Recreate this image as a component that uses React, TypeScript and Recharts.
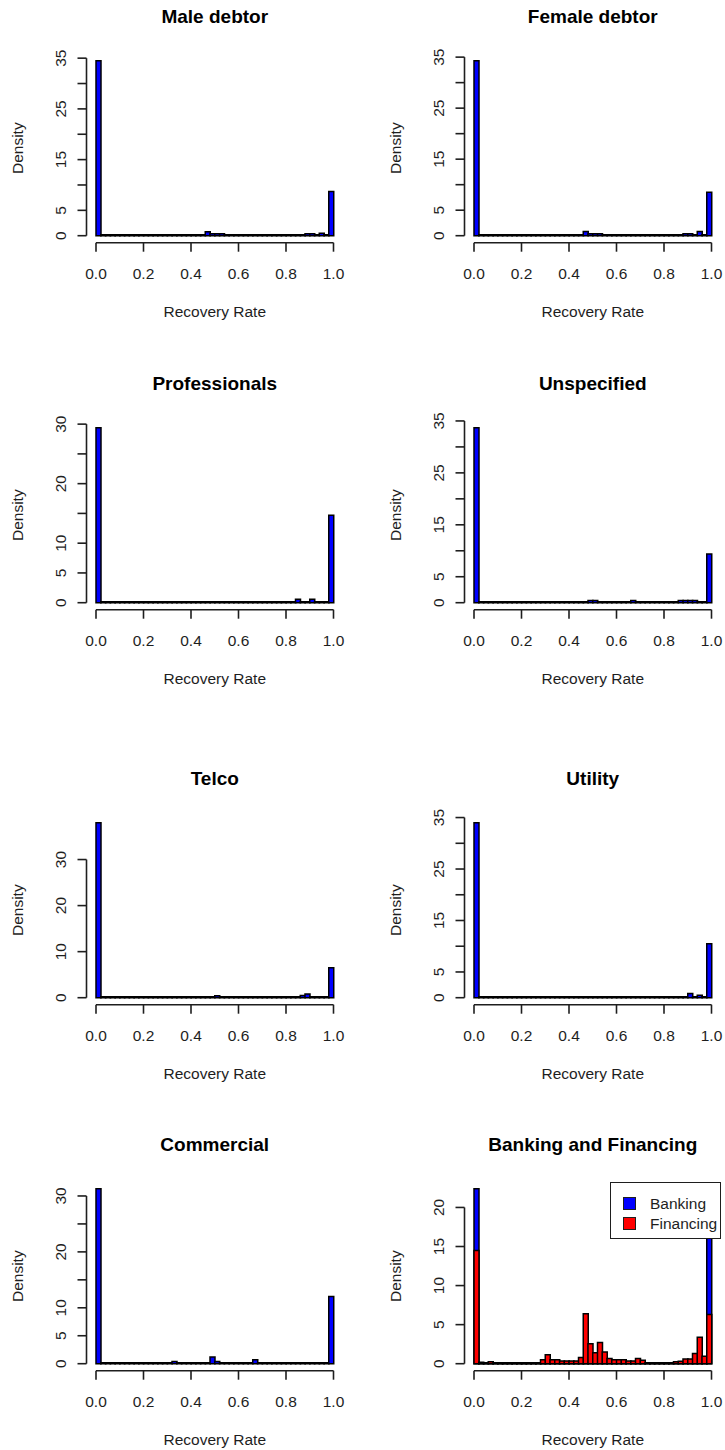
import React from "react"
import { ComposedChart, Bar, XAxis, YAxis, ReferenceLine, Legend } from "recharts"

// histogram bins of width 0.02 over [0, 1], keyed by their midpoints
const binMids = [
  0.01, 0.03, 0.05, 0.07, 0.09, 0.11, 0.13, 0.15, 0.17, 0.19,
  0.21, 0.23, 0.25, 0.27, 0.29, 0.31, 0.33, 0.35, 0.37, 0.39,
  0.41, 0.43, 0.45, 0.47, 0.49, 0.51, 0.53, 0.55, 0.57, 0.59,
  0.61, 0.63, 0.65, 0.67, 0.69, 0.71, 0.73, 0.75, 0.77, 0.79,
  0.81, 0.83, 0.85, 0.87, 0.89, 0.91, 0.93, 0.95, 0.97, 0.99,
]

const xTicks = [0, 0.2, 0.4, 0.6, 0.8, 1]

// densities
const maleDebtor = [
  34.5, 0, 0, 0, 0, 0, 0, 0, 0, 0,
  0, 0, 0, 0, 0, 0, 0, 0, 0, 0,
  0, 0, 0, 0.8, 0.4, 0.4, 0.4, 0, 0, 0,
  0, 0, 0, 0, 0, 0, 0, 0, 0, 0,
  0, 0, 0, 0, 0.4, 0.4, 0, 0.5, 0, 8.7,
]
const femaleDebtor = [
  34.3, 0, 0, 0, 0, 0, 0, 0, 0, 0,
  0, 0, 0, 0, 0, 0, 0, 0, 0, 0,
  0, 0, 0, 0.8, 0.4, 0.4, 0.4, 0, 0, 0,
  0, 0, 0, 0, 0, 0, 0, 0, 0, 0,
  0, 0, 0, 0, 0.4, 0.4, 0, 0.8, 0, 8.5,
]
const professionals = [
  29.4, 0, 0, 0, 0, 0, 0, 0, 0, 0,
  0, 0, 0, 0, 0, 0, 0, 0, 0, 0,
  0, 0, 0, 0, 0, 0, 0, 0, 0, 0,
  0, 0, 0, 0, 0, 0, 0, 0, 0, 0,
  0, 0, 0.6, 0, 0, 0.6, 0, 0, 0, 14.7,
]
const unspecified = [
  33.7, 0, 0, 0, 0, 0, 0, 0, 0, 0,
  0, 0, 0, 0, 0, 0, 0, 0, 0, 0,
  0, 0, 0, 0, 0.4, 0.4, 0, 0, 0, 0,
  0, 0, 0, 0.4, 0, 0, 0, 0, 0, 0,
  0, 0, 0, 0.4, 0.4, 0.4, 0.4, 0, 0, 9.4,
]
const telco = [
  38, 0, 0, 0, 0, 0, 0, 0, 0, 0,
  0, 0, 0, 0, 0, 0, 0, 0, 0, 0,
  0, 0, 0, 0, 0, 0.4, 0, 0, 0, 0,
  0, 0, 0, 0, 0, 0, 0, 0, 0, 0,
  0, 0, 0, 0.5, 0.8, 0, 0, 0, 0, 6.5,
]
const utility = [
  34, 0, 0, 0, 0, 0, 0, 0, 0, 0,
  0, 0, 0, 0, 0, 0, 0, 0, 0, 0,
  0, 0, 0, 0, 0, 0, 0, 0, 0, 0,
  0, 0, 0, 0, 0, 0, 0, 0, 0, 0,
  0, 0, 0, 0, 0, 0.8, 0, 0.5, 0, 10.5,
]
const commercial = [
  31.3, 0, 0, 0, 0, 0, 0, 0, 0, 0,
  0, 0, 0, 0, 0, 0, 0.4, 0, 0, 0,
  0, 0, 0, 0, 1.2, 0.4, 0, 0, 0, 0,
  0, 0, 0, 0.7, 0, 0, 0, 0, 0, 0,
  0, 0, 0, 0, 0, 0, 0, 0, 0, 12,
]
const banking = [
  22.4, 0, 0, 0, 0, 0, 0, 0, 0, 0,
  0, 0, 0, 0, 0, 0, 0, 0, 0, 0,
  0, 0, 0, 0, 0, 0, 0, 0, 0, 0,
  0, 0, 0, 0, 0, 0, 0, 0, 0, 0,
  0, 0, 0, 0, 0, 0, 0, 0, 0, 18,
]
const financing = [
  14.5, 0.2, 0.1, 0.25, 0.1, 0.05, 0.05, 0.05, 0.05, 0.05,
  0.05, 0.05, 0.05, 0.05, 0.5, 1.15, 0.5, 0.5, 0.35, 0.35,
  0.35, 0.35, 0.8, 6.4, 2.55, 1.4, 2.7, 1.5, 0.65, 0.5,
  0.5, 0.5, 0.35, 0.35, 0.65, 0.45, 0.05, 0.05, 0.05, 0.05,
  0.05, 0.05, 0.25, 0.3, 0.6, 0.6, 1.3, 3.4, 0.95, 6.3,
]

const ticks35 = [0, 5, 10, 15, 20, 25, 30, 35]
const labels35 = ["0", "5", "", "15", "", "25", "", "35"]
const ticks30 = [0, 5, 10, 15, 20, 25, 30]
const labels30 = ["0", "5", "10", "", "20", "", "30"]
const ticksTelco = [0, 10, 20, 30]
const labelsTelco = ["0", "10", "20", "30"]
const ticks20 = [0, 5, 10, 15, 20]
const labels20 = ["0", "5", "10", "15", "20"]

const BLUE = "#0000ff"
const RED = "#ff0000"
const INK = "#1e1e1e"
const FONT = "'Liberation Sans', Arial, sans-serif"

const W = 347
const H = 322
const PLOT_LEFT = 86.5
const PLOT_TOP = 53.7
const PLOT_BOTTOM = 242.7
const PLOT_CX = (PLOT_LEFT + (W - 4)) / 2

const ROW_TOPS = [0, 366.6, 761.6, 1128.3]
const COL_LEFTS = [0, 378]

interface Series {
  key: string
  name: string
  color: string
  values: number[]
}

interface PanelProps {
  title: string
  series: Series[]
  yTicks: number[]
  yLabels: string[]
  left: number
  top: number
  legend?: boolean
}

const LegendBox = ({ payload }: any) => (
  <div
    style={{
      width: 111,
      height: 57,
      boxSizing: "border-box",
      border: `1.5px solid ${INK}`,
      background: "#fff",
      position: "relative",
      fontFamily: FONT,
    }}
  >
    {(payload || []).map((entry: any, i: number) => (
      <div key={entry.value} style={{ position: "absolute", left: 12, top: 13 + i * 20, display: "flex", alignItems: "center" }}>
        <span style={{ width: 11, height: 11, background: entry.color, border: `1px solid ${INK}` }} />
        <span style={{ marginLeft: 14, fontSize: 15.5, color: INK, lineHeight: "15px" }}>{entry.value}</span>
      </div>
    ))}
  </div>
)

function Panel({ title, series, yTicks, yLabels, left, top, legend }: PanelProps) {
  const yMax = Math.max(...series.flatMap((s) => s.values))
  const yDomain = [-0.04 * yMax, 1.04 * yMax]
  const data = binMids.map((mid, i) => {
    const row: any = { mid }
    series.forEach((s) => (row[s.key] = s.values[i]))
    return row
  })

  const YTick = ({ x, y, payload }: any) => {
    const idx = yTicks.indexOf(payload.value)
    return (
      <text
        transform={`translate(${x - 12},${y}) rotate(-90)`}
        textAnchor="middle"
        fontSize={15.5}
        fontFamily={FONT}
        fill={INK}
      >
        {yLabels[idx]}
      </text>
    )
  }

  return (
    <div style={{ position: "absolute", left, top, width: W, height: H }}>
      <ComposedChart
        width={W}
        height={H}
        data={data}
        margin={{ top: PLOT_TOP, right: 4, bottom: H - PLOT_BOTTOM - 40, left: 0 }}
        barCategoryGap={0}
        barGap={0}
      >
        {series.map((s, i) => (
          <XAxis
            key={"x" + s.key}
            xAxisId={i}
            type="number"
            dataKey="mid"
            domain={[-0.04, 1.04]}
            allowDataOverflow
            ticks={xTicks}
            interval={0}
            hide={i > 0}
            height={40}
            axisLine={false}
            tickLine={{ stroke: INK, strokeWidth: 1.6 }}
            tickSize={9}
            tickMargin={16.6}
            tick={{ fill: INK, fontSize: 15.5, fontFamily: FONT }}
            tickFormatter={(v: number) => v.toFixed(1)}
          />
        ))}
        <YAxis
          type="number"
          domain={yDomain}
          allowDataOverflow
          ticks={yTicks}
          interval={0}
          width={PLOT_LEFT}
          axisLine={false}
          tickLine={{ stroke: INK, strokeWidth: 1.6 }}
          tickSize={9}
          tickMargin={0}
          tick={(p: any) => <YTick {...p} />}
        />
        {series.map((s, i) => (
          <Bar
            key={s.key}
            xAxisId={i}
            dataKey={s.key}
            name={s.name}
            fill={s.color}
            stroke="#000"
            strokeWidth={1.5}
            minPointSize={1}
            isAnimationActive={false}
          />
        ))}
        <ReferenceLine
          xAxisId={0}
          segment={[{ x: 0, y: yDomain[0] }, { x: 1, y: yDomain[0] }]}
          stroke={INK}
          strokeWidth={1.6}
          ifOverflow="visible"
        />
        <ReferenceLine
          xAxisId={0}
          segment={[{ x: -0.04, y: 0 }, { x: -0.04, y: yTicks[yTicks.length - 1] }]}
          stroke={INK}
          strokeWidth={1.6}
          ifOverflow="visible"
        />
        {legend && (
          <Legend
            layout="vertical"
            align="center"
            verticalAlign="middle"
            content={<LegendBox />}
            wrapperStyle={{ left: W - 4 - 111, top: PLOT_TOP, width: 111, height: 57 }}
          />
        )}
      </ComposedChart>
      <svg
        width={W}
        height={H}
        style={{ position: "absolute", left: 0, top: 0, pointerEvents: "none" }}
      >
        <text x={PLOT_CX} y={23.3} textAnchor="middle" fontSize={19} fontWeight="bold" fontFamily={FONT} fill="#000">
          {title}
        </text>
        <text x={PLOT_CX} y={316.5} textAnchor="middle" fontSize={15.5} fontFamily={FONT} fill={INK}>
          Recovery Rate
        </text>
        <text
          transform={`translate(23,${(PLOT_TOP + PLOT_BOTTOM) / 2}) rotate(-90)`}
          textAnchor="middle"
          fontSize={15.5}
          fontFamily={FONT}
          fill={INK}
        >
          Density
        </text>
      </svg>
    </div>
  )
}

const one = (key: string, name: string, values: number[]): Series[] => [{ key, name, color: BLUE, values }]

export default function App() {
  return (
    <div
      style={{
        position: "absolute",
        left: 0,
        top: 0,
        width: 725,
        height: 1450,
        overflow: "hidden",
        background: "#fff",
      }}
    >
      <Panel title="Male debtor" series={one("male", "Male debtor", maleDebtor)} yTicks={ticks35} yLabels={labels35} left={COL_LEFTS[0]} top={ROW_TOPS[0]} />
      <Panel title="Female debtor" series={one("female", "Female debtor", femaleDebtor)} yTicks={ticks35} yLabels={labels35} left={COL_LEFTS[1]} top={ROW_TOPS[0]} />
      <Panel title="Professionals" series={one("prof", "Professionals", professionals)} yTicks={ticks30} yLabels={labels30} left={COL_LEFTS[0]} top={ROW_TOPS[1]} />
      <Panel title="Unspecified" series={one("unspec", "Unspecified", unspecified)} yTicks={ticks35} yLabels={labels35} left={COL_LEFTS[1]} top={ROW_TOPS[1]} />
      <Panel title="Telco" series={one("telco", "Telco", telco)} yTicks={ticksTelco} yLabels={labelsTelco} left={COL_LEFTS[0]} top={ROW_TOPS[2]} />
      <Panel title="Utility" series={one("util", "Utility", utility)} yTicks={ticks35} yLabels={labels35} left={COL_LEFTS[1]} top={ROW_TOPS[2]} />
      <Panel title="Commercial" series={one("comm", "Commercial", commercial)} yTicks={ticks30} yLabels={labels30} left={COL_LEFTS[0]} top={ROW_TOPS[3]} />
      <Panel
        title="Banking and Financing"
        series={[
          { key: "banking", name: "Banking", color: BLUE, values: banking },
          { key: "financing", name: "Financing", color: RED, values: financing },
        ]}
        yTicks={ticks20}
        yLabels={labels20}
        left={COL_LEFTS[1]}
        top={ROW_TOPS[3]}
        legend
      />
    </div>
  )
}
